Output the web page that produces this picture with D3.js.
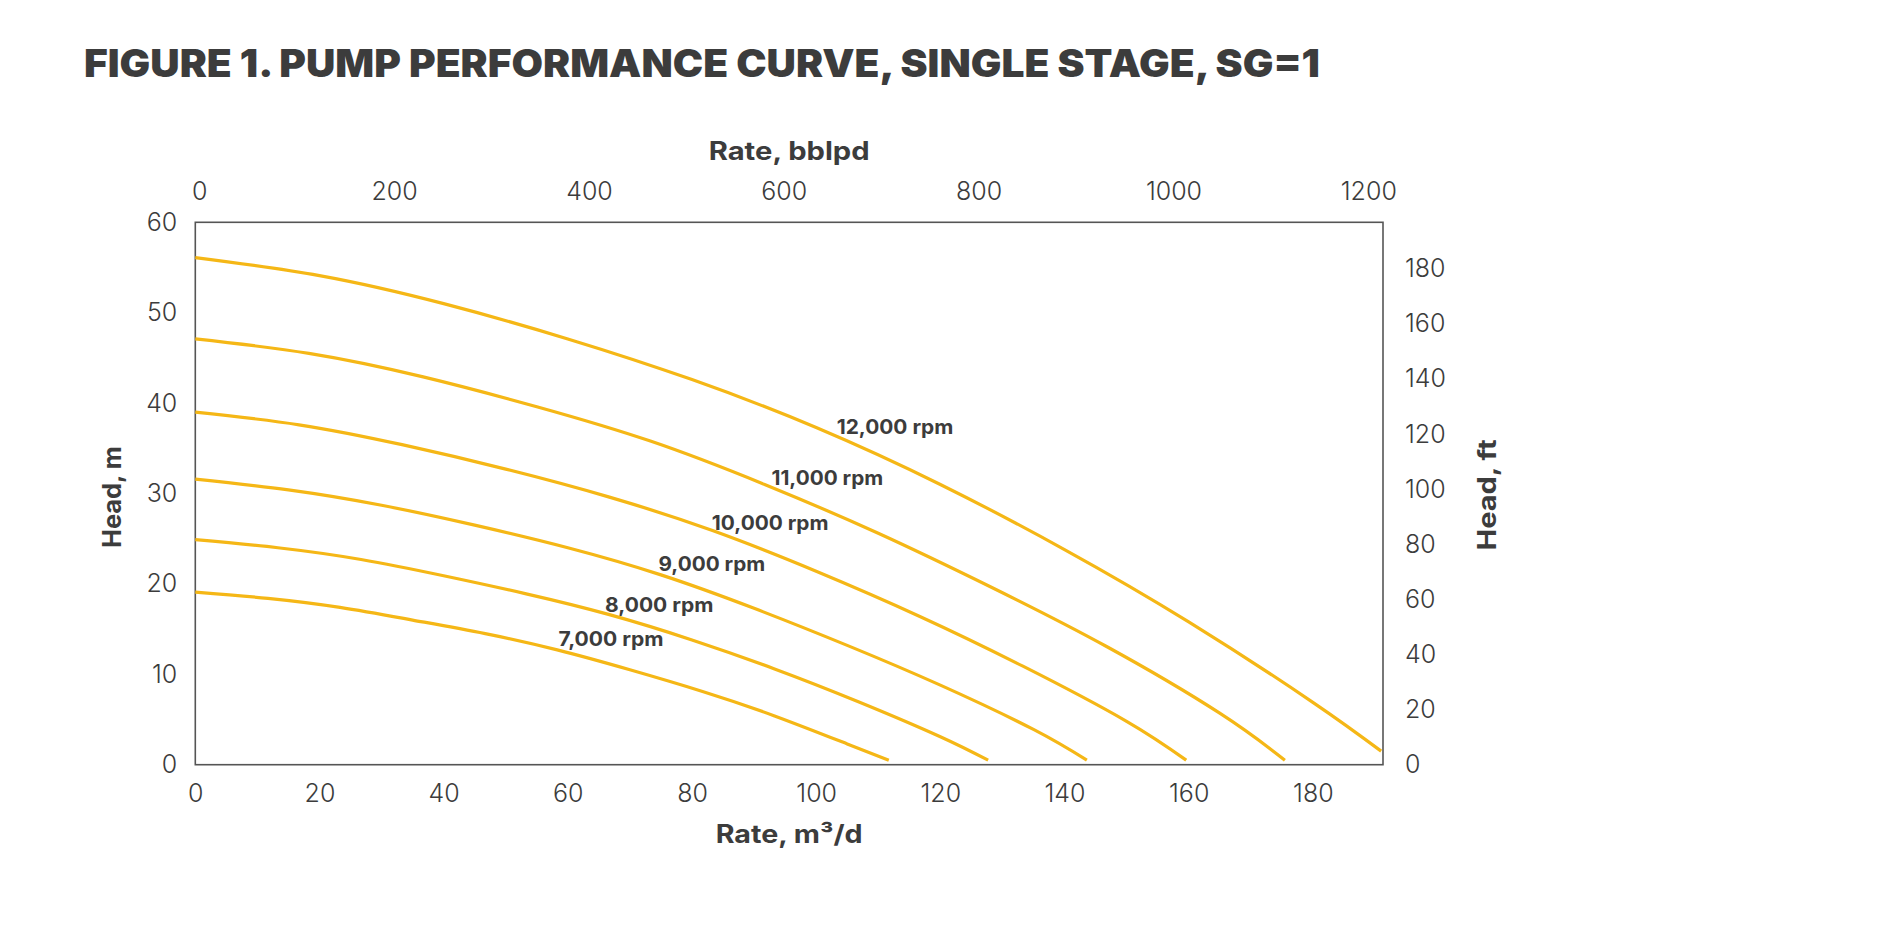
<!DOCTYPE html>
<html>
<head>
<meta charset="utf-8">
<script src="https://cdn.jsdelivr.net/npm/d3@7"></script>
<style>
  html, body { margin: 0; padding: 0; background: #ffffff; }
  svg { display: block; }
  text { font-family: Inter, "Open Sans", "DejaVu Sans", sans-serif; fill: #3c3c3c; }
</style>
</head>
<body>
<svg id="chart" width="1890" height="930"></svg>
<script>
// ---------------- DATA ----------------
const titleText = "FIGURE 1. PUMP PERFORMANCE CURVE, SINGLE STAGE, SG=1";
const speeds = ["12,000 rpm", "11,000 rpm", "10,000 rpm", "9,000 rpm", "8,000 rpm", "7,000 rpm"];

// rate (m3/d) and head (m) for each curve
const rate12000 = [0, 20, 40, 60, 80, 100, 120, 140, 160, 180, 191.0];
const head12000 = [56.1, 54.1, 51.0, 47.1, 42.6, 37.3, 31.0, 23.8, 15.8, 6.9, 1.5];
const rate11000 = [0, 18.3, 36.7, 55.0, 73.3, 91.7, 110.0, 128.3, 146.7, 165.0, 175.5];
const head11000 = [47.1, 45.5, 42.9, 39.6, 35.8, 31.0, 25.6, 19.6, 13.1, 5.7, 0.5];
const rate10000 = [0, 16.7, 33.3, 50.0, 66.7, 83.3, 100.0, 116.7, 133.3, 150.0, 159.6];
const head10000 = [39.0, 37.6, 35.4, 32.7, 29.6, 25.9, 21.4, 16.4, 10.9, 4.8, 0.5];
const rate9000 = [0, 15, 30, 45, 60, 75, 90, 105, 120, 135, 143.6];
const head9000 = [31.6, 30.4, 28.7, 26.5, 24.0, 21.0, 17.3, 13.2, 8.8, 3.9, 0.5];
const rate8000 = [0, 13.3, 26.7, 40, 53.3, 66.7, 80, 93.3, 106.7, 120, 127.7];
const head8000 = [24.9, 24.0, 22.7, 20.9, 18.9, 16.6, 13.8, 10.6, 7.0, 3.1, 0.5];
const rate7000 = [0, 11.7, 23.3, 35, 46.7, 58.3, 70, 81.7, 93.3, 105, 111.7];
const head7000 = [19.1, 18.4, 17.4, 16.0, 14.5, 12.7, 10.5, 8.1, 5.4, 2.3, 0.5];

// label anchors (rate m3/d, head m) for each curve label
const labelRate = [103.3, 92.8, 83.2, 74.6, 66.0, 58.5];
const labelHead = [36.6, 30.9, 26.0, 21.4, 16.9, 13.1];

// axis ticks
const rateTicks = [0, 20, 40, 60, 80, 100, 120, 140, 160, 180];
const bblTicks = [0, 200, 400, 600, 800, 1000, 1200];
const headMTicks = [0, 10, 20, 30, 40, 50, 60];
const headFtTicks = [0, 20, 40, 60, 80, 100, 120, 140, 160, 180];

// axis domains
const rateMax = 191.3;
const headMax = 60;
const ftPerM = 1 / 0.3048;

// ---------------- LAYOUT ----------------
const L = 195.3, R = 1383, T = 222.3, B = 764.7;
const curveColor = "#F5B716";
const textColor = "#3c3c3c";

const svg = d3.select("#chart");

const x = d3.scaleLinear().domain([0, rateMax]).range([L, R]);
const y = d3.scaleLinear().domain([0, headMax]).range([B, T]);
const yFt = d3.scaleLinear().domain([0, headMax * ftPerM]).range([B, T]);
const xBbl = d3.scaleLinear().domain([0, 1200]).range([199.3, 1368.3]);

// title
svg.append("text")
  .attr("x", 84).attr("y", 77)
  .attr("textLength", 1236).attr("lengthAdjust", "spacingAndGlyphs")
  .style("font-size", "38px").style("font-weight", 900)
  .text(titleText);

// axes
function styleAxis(g) {
  g.select(".domain").remove();
  g.selectAll(".tick line").remove();
  g.selectAll(".tick text")
    .style("font-family", "Inter, 'Open Sans', sans-serif")
    .style("font-size", "25px").style("font-weight", 300)
    .style("fill", textColor);
}

svg.append("g").attr("transform", `translate(0,${B})`)
  .call(d3.axisBottom(x).tickValues(rateTicks).tickSize(0).tickPadding(20).tickFormat(d3.format("d")))
  .call(styleAxis);

svg.append("g").attr("transform", `translate(0,${T})`)
  .call(d3.axisTop(xBbl).tickValues(bblTicks).tickSize(0).tickPadding(22).tickFormat(d3.format("d")))
  .call(styleAxis);

svg.append("g").attr("transform", `translate(${L},0)`)
  .call(d3.axisLeft(y).tickValues(headMTicks).tickSize(0).tickPadding(18).tickFormat(d3.format("d")))
  .call(styleAxis);

svg.append("g").attr("transform", `translate(${R},0)`)
  .call(d3.axisRight(yFt).tickValues(headFtTicks).tickSize(0).tickPadding(22).tickFormat(d3.format("d")))
  .call(styleAxis);

// frame
svg.append("rect")
  .attr("x", L).attr("y", T).attr("width", R - L).attr("height", B - T)
  .attr("fill", "none").attr("stroke", "#555").attr("stroke-width", 1.6);

// curves
const series = [
  [rate12000, head12000], [rate11000, head11000], [rate10000, head10000],
  [rate9000, head9000], [rate8000, head8000], [rate7000, head7000]
];
const line = d3.line().x(d => x(d[0])).y(d => y(d[1])).curve(d3.curveNatural);
svg.append("g").selectAll("path")
  .data(series.map(s => s[0].map((q, i) => [q, s[1][i]])))
  .join("path")
  .attr("d", line)
  .attr("fill", "none").attr("stroke", curveColor).attr("stroke-width", 3.2);

// curve labels
const labelWidths = [116.7, 111.7, 116.7, 106.7, 108.3, 105];
svg.append("g").selectAll("text")
  .data(speeds)
  .join("text")
  .attr("x", (d, i) => x(labelRate[i]))
  .attr("y", (d, i) => y(labelHead[i]))
  .attr("textLength", (d, i) => labelWidths[i]).attr("lengthAdjust", "spacingAndGlyphs")
  .style("font-size", "20px").style("font-weight", 700)
  .text(d => d);

// axis titles
svg.append("text").attr("x", (L + R) / 2).attr("y", 160)
  .attr("text-anchor", "middle")
  .attr("textLength", 161).attr("lengthAdjust", "spacingAndGlyphs")
  .style("font-size", "25px").style("font-weight", 700)
  .text("Rate, bblpd");

svg.append("text").attr("x", (L + R) / 2).attr("y", 843)
  .attr("text-anchor", "middle")
  .attr("textLength", 147).attr("lengthAdjust", "spacingAndGlyphs")
  .style("font-size", "25px").style("font-weight", 700)
  .text("Rate, m³/d");

svg.append("text")
  .attr("transform", `translate(121,497) rotate(-90)`)
  .attr("text-anchor", "middle")
  .attr("textLength", 102).attr("lengthAdjust", "spacingAndGlyphs")
  .style("font-size", "25px").style("font-weight", 700)
  .text("Head, m");

svg.append("text")
  .attr("transform", `translate(1496,495) rotate(-90)`)
  .attr("text-anchor", "middle")
  .attr("textLength", 111).attr("lengthAdjust", "spacingAndGlyphs")
  .style("font-size", "25px").style("font-weight", 700)
  .text("Head, ft");
</script>
</body>
</html>
